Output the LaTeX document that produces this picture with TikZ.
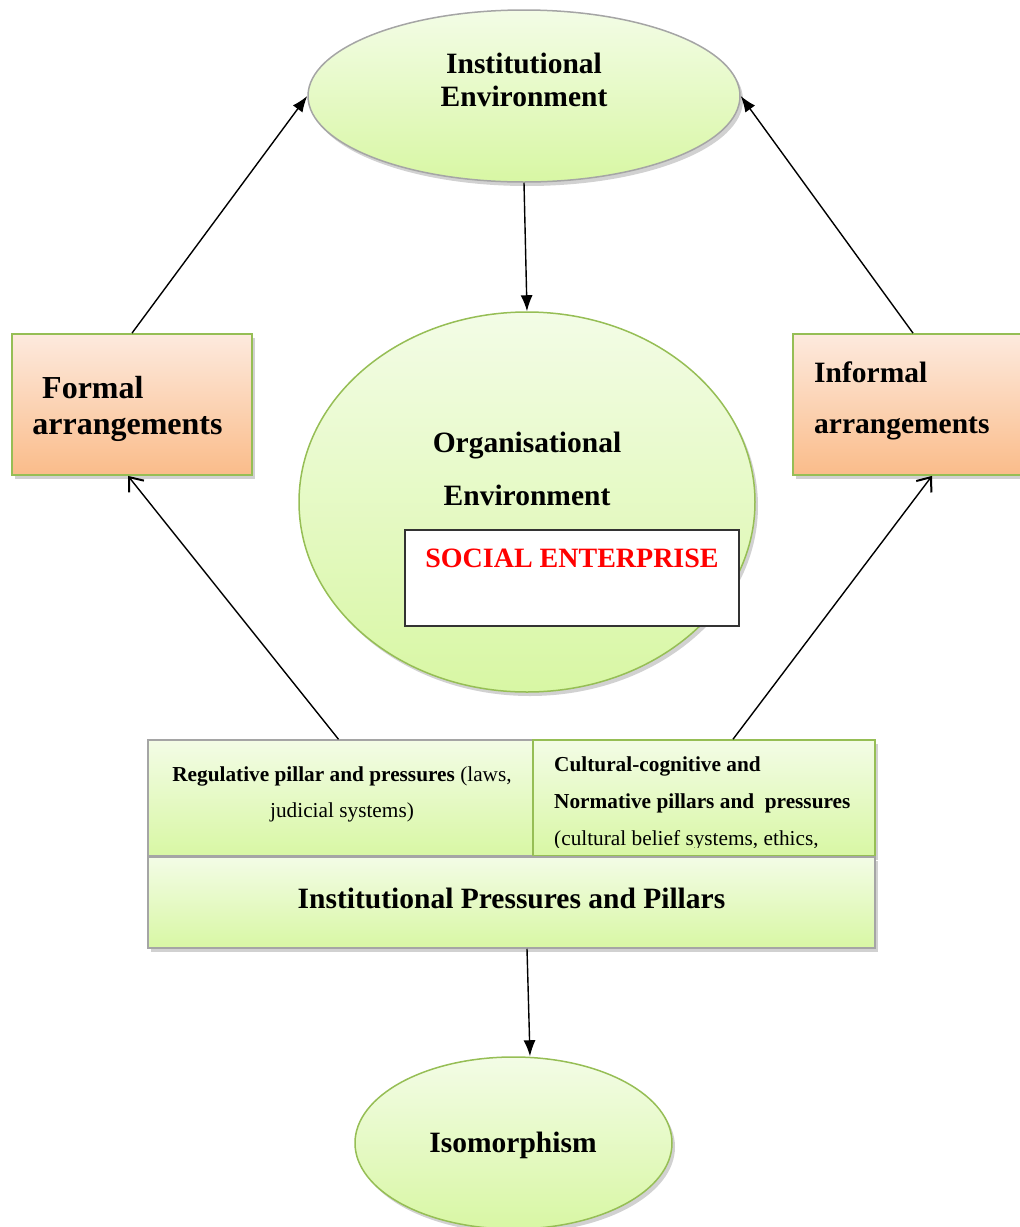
\documentclass[tikz,border=0pt]{standalone}
\usepackage{fontspec}
\setmainfont{Liberation Serif}
\usetikzlibrary{shapes.geometric,arrows.meta,shadows}
\definecolor{gtop}{RGB}{243,252,230}
\definecolor{gbot}{RGB}{216,247,164}
\definecolor{otop}{RGB}{253,234,222}
\definecolor{obot}{RGB}{250,188,138}
\definecolor{gborder}{RGB}{150,190,85}
\definecolor{grayborder}{RGB}{165,165,165}
\tikzset{
  shad/.style={drop shadow={shadow xshift=3pt,shadow yshift=-4pt,opacity=0.3,fill=black!60}},
  gshape/.style={top color=gtop,bottom color=gbot,line width=1.5pt,inner sep=0pt,shad},
  oshape/.style={top color=otop,bottom color=obot,draw=gborder,line width=1.8pt,inner sep=0pt,shad},
  big/.style={font=\fontsize{29.5}{33}\selectfont\bfseries,inner sep=0pt},
  small/.style={font=\fontsize{21.3}{36}\selectfont,inner sep=0pt},
  filledarrow/.style={line width=1.4pt,arrows={-Latex[length=16pt,width=12pt,fill=black]}},
  openarrow/.style={line width=1.4pt,arrows={-Straight Barb[length=12pt,width=19pt,line width=2pt]}}
}
\begin{document}
\begin{tikzpicture}[x=1pt,y=1pt]
\useasboundingbox (0,0) rectangle (1020,-1227);
% institutional environment
\node[gshape,ellipse,draw=grayborder,minimum width=432pt,minimum height=172pt] (ie) at (524,-96) {};
\node[big,align=center] (ietxt) at (524,-80) {Institutional\\Environment};
% organisational environment
\node[gshape,ellipse,draw=gborder,minimum width=456pt,minimum height=380pt] (oe) at (527,-502) {};
\node[big] (oet1) at (527,-446) {Organisational};
\node[big] (oet2) at (527,-495) {Environment};
\node[draw=black!80,fill=white,line width=1.2pt,minimum width=334pt,minimum height=96pt,inner sep=0pt] (se) at (572,-578) {};
\node[big,text=red,font=\fontsize{28}{33}\selectfont\bfseries] (setxt) at (572,-558) {SOCIAL ENTERPRISE};
% formal / informal
\node[oshape,minimum width=240pt,minimum height=141pt] (formal) at (132,-404.5) {};
\node[big,anchor=west,font=\fontsize{32}{33}\selectfont\bfseries] (ft1) at (42,-388) {Formal};
\node[big,font=\fontsize{32}{33}\selectfont\bfseries] (ft2) at (127.5,-429) {arrangements};
\node[oshape,minimum width=240pt,minimum height=141pt] (informal) at (913,-404.5) {};
\node[big,anchor=west] (it1) at (814,-372) {Informal};
\node[big,anchor=west] (it2) at (814,-428) {arrangements};
% pillars
\node[gshape,draw=grayborder,minimum width=389pt,minimum height=116pt] (reg) at (342.5,-798) {};
\node[small,align=center] (regtxt) at (342,-794.5) {\textbf{Regulative pillar and pressures} (laws,\\judicial systems)};
\node[gshape,draw=gborder,minimum width=342pt,minimum height=116pt] (cult) at (704,-798) {};
\begin{scope}
\clip (535,-742) rectangle (873,-847);
\node[small,align=left,anchor=north west,font=\fontsize{21.3}{37}\selectfont] (culttxt) at (554,-756.5) {\textbf{Cultural-cognitive and}\\\textbf{Normative pillars and\ \ pressures}\\(cultural belief systems, ethics,};
\end{scope}
\node[gshape,draw=grayborder,minimum width=727pt,minimum height=91pt] (ipp) at (511.5,-902.5) {};
\node[big] (ipptxt) at (511.5,-898) {Institutional Pressures and Pillars};
% isomorphism
\node[gshape,ellipse,draw=gborder,minimum width=317pt,minimum height=172pt] (iso) at (513.5,-1143) {};
\node[big] (isotxt) at (513,-1145) {Isomorphism};
% arrows
\draw[filledarrow] (formal.north) -- (ie.west);
\draw[filledarrow] (informal.north) -- (ie.east);
\draw[filledarrow] (ie.south) -- (oe.north);
\draw[openarrow] ([xshift=-4pt]reg.north) -- ([xshift=-4pt]formal.south);
\draw[openarrow] ([xshift=29pt]cult.north) -- ([xshift=19pt]informal.south);
\draw[filledarrow] ([xshift=15.5pt]ipp.south) -- ([xshift=16.5pt]iso.north);
\end{tikzpicture}
\end{document}
